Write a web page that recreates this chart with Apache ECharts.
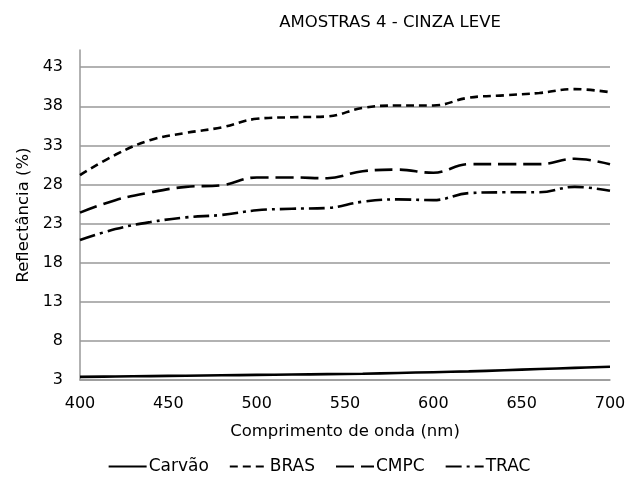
<!DOCTYPE html>
<html>
<head>
<meta charset="utf-8">
<script src="https://cdn.jsdelivr.net/npm/echarts@6/dist/echarts.min.js"></script>
<style>html,body{margin:0;padding:0;background:#fff}#c{width:638px;height:479px}</style>
</head>
<body>
<div id="c"></div>
<script>
const wavelengths = [400,420,440,460,480,500,520,540,560,580,600,620,640,660,680,700];
const carvao = [3.4,3.45,3.5,3.55,3.6,3.65,3.7,3.75,3.8,3.9,4.0,4.1,4.25,4.4,4.55,4.7];
const bras   = [29.2,31.8,33.7,34.6,35.3,36.4,36.6,36.7,37.8,38.1,38.1,39.1,39.4,39.7,40.2,39.8];
const cmpc   = [24.4,26.0,27.0,27.7,27.9,28.9,28.9,28.8,29.7,29.9,29.5,30.6,30.6,30.6,31.3,30.6];
const trac   = [20.9,22.3,23.2,23.8,24.1,24.7,24.9,25.0,25.8,26.1,26.0,26.9,27.0,27.0,27.7,27.2];
const seriesNames = ['Carvão','BRAS','CMPC','TRAC'];

const font = 'DejaVu Sans, Verdana, sans-serif';
function pairs(arr){ return wavelengths.map((w,i)=>[w,arr[i]]); }
function mk(name, arr, type){
  return {
    name: name, type: 'line', data: pairs(arr), smooth: 0.4, symbol: 'none', showSymbol: false,
    lineStyle: {color:'#000', width: 2.6, type: type, cap: 'butt'},
    itemStyle: {color:'#000'}
  };
}
const chart = echarts.init(document.getElementById('c'), null, {renderer:'canvas'});
chart.setOption({
  animation: false,
  backgroundColor: '#fff',
  title: {text: 'AMOSTRAS 4 - CINZA LEVE', left: 385, top: 9, textAlign: 'center',
    textStyle: {fontFamily: font, fontSize: 16.5, fontWeight: 'normal', color: '#000'}},
  grid: {left: 80, right: 28, top: 50, bottom: 99},
  legend: {
    top: 453, left: 'center', itemWidth: 38, itemHeight: 10, itemGap: 20,
    data: seriesNames,
    itemStyle: {opacity: 0},
    textStyle: {fontFamily: font, fontSize: 17, color: '#000', padding: [0,0,0,-3]}
  },
  xAxis: {
    type: 'value', min: 400, max: 700, interval: 50,
    name: 'Comprimento de onda (nm)', nameLocation: 'middle', nameGap: 43,
    nameTextStyle: {fontFamily: font, fontSize: 16.5, color: '#000'},
    axisLine: {show: true, lineStyle: {color: '#999', width: 1.5}},
    axisTick: {show: false},
    splitLine: {show: false},
    axisLabel: {fontFamily: font, fontSize: 16, color: '#000', margin: 16}
  },
  yAxis: {
    type: 'value', min: 3, max: 45.2, interval: 5,
    name: 'Reflectância (%)', nameLocation: 'middle', nameGap: 39,
    nameTextStyle: {fontFamily: font, fontSize: 16.5, color: '#000'},
    axisLine: {show: true, lineStyle: {color: '#999', width: 1.5}},
    axisTick: {show: false},
    splitLine: {show: true, showMaxLine: false, lineStyle: {color: '#999', width: 1.5}},
    axisLabel: {fontFamily: font, fontSize: 16, color: '#000', margin: 17, showMaxLabel: false}
  },
  series: [
    mk('Carvão', carvao, 'solid'),
    mk('BRAS', bras, [8,5]),
    mk('CMPC', cmpc, [18,7]),
    mk('TRAC', trac, [16,5,3,5])
  ]
});
</script>
</body>
</html>
